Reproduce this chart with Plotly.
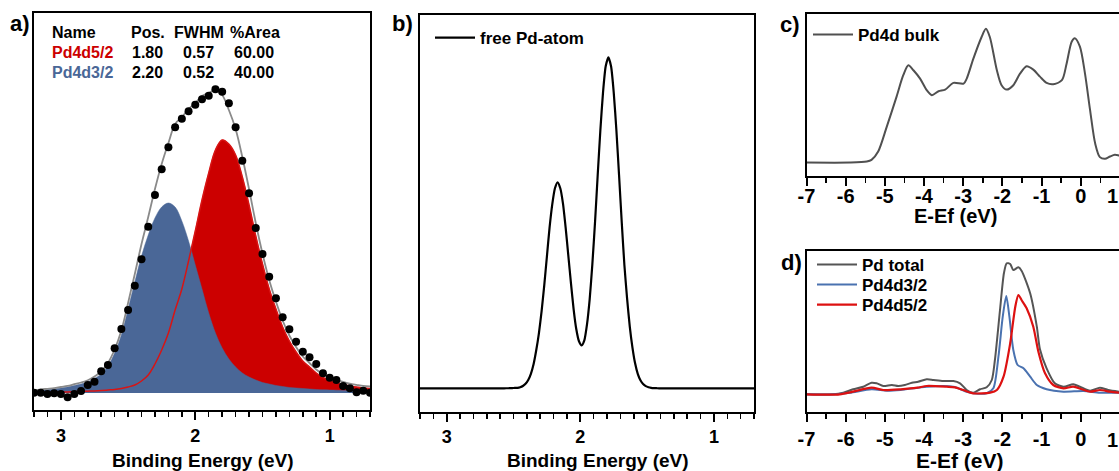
import plotly.graph_objects as go

W, H = 1119, 471
FONT = "Liberation Sans, Arial, sans-serif"

# ---------------- panel a: XPS fit ----------------
be_a = [3.20, 3.15, 3.10, 3.05, 3.00, 2.95, 2.90, 2.85, 2.80, 2.75, 2.70, 2.65, 2.60,
        2.55, 2.50, 2.45, 2.40, 2.35, 2.30, 2.25, 2.20, 2.15, 2.10, 2.05, 2.00, 1.95,
        1.90, 1.85, 1.80, 1.75, 1.70, 1.65, 1.60, 1.55, 1.50, 1.45, 1.40, 1.35, 1.30,
        1.25, 1.20, 1.15, 1.10, 1.05, 1.00, 0.95, 0.90, 0.85, 0.80, 0.75, 0.70]
measured_a = [0.3, 0.3, -1, -0.3, -1, -4.3, -1, 2, 8, 11.3, 21.7, 28, 44.7, 64, 83, 107.3,
              133.7, 166.3, 198, 223.7, 245.7, 265.7, 274.3, 281.7, 288.3, 293.7, 297.3,
              303.7, 301.3, 289.7, 265.7, 232.3, 199.7, 165, 139, 116.3, 94.7, 75.7, 63.7,
              51.3, 41.3, 35.7, 29, 19.7, 15.3, 13, 7, 4.7, 0.7, 2.3, 0.3]
pd4d32_a = [2, 3, 3.5, 4, 5, 6, 7.5, 9, 11, 14.5, 19, 27, 40, 58, 84, 111, 137, 158, 175,
            186, 190, 186, 172, 152, 128, 104, 80, 60, 45, 34, 26, 20, 16, 13, 10.5, 9, 7.5,
            6.5, 5.5, 5, 4.5, 4, 3.5, 3.2, 3, 2.8, 2.6, 2.4, 2.2, 2.1, 2]
pd4d52_a = [0.5, 0.6, 0.7, 0.8, 1, 1.1, 1.3, 1.5, 1.8, 2.1, 2.5, 3, 3.5, 4.5, 6, 8, 12, 18,
            29, 43, 60, 83, 104, 132, 162, 193, 220, 243, 253, 249, 238, 216, 188, 157, 129,
            104, 84, 66, 52, 41, 32, 26, 20, 15.5, 12.5, 10.5, 8.5, 7, 6, 5, 4.5]
envelope_a = [2.5, 3.6, 4.2, 4.8, 6, 7.1, 8.8, 10.5, 12.8, 16.6, 21.5, 30, 43.5, 62.5, 90,
              119, 149, 176, 204, 229, 250, 269, 276, 284, 290, 297, 300, 303, 298, 283, 264,
              236, 204, 170, 139.5, 113, 91.5, 72.5, 57.5, 46, 36.5, 30, 23.5, 18.7, 15.5,
              13.3, 11.1, 9.4, 8.2, 7.1, 6.5]

table_head = ["Name", "Pos.", "FWHM", "%Area"]
table_names = ["Pd4d5/2", "Pd4d3/2"]
table_pos = ["1.80", "2.20"]
table_fwhm = ["0.57", "0.52"]
table_area = ["60.00", "40.00"]

# ---------------- panel b: free atom ----------------
be_b = [3.20, 2.61, 2.59, 2.57, 2.55, 2.53, 2.51, 2.49, 2.47, 2.45, 2.43, 2.41, 2.39, 2.37,
        2.35, 2.33, 2.31, 2.29, 2.27, 2.25, 2.23, 2.21, 2.19, 2.17, 2.15, 2.13, 2.11, 2.09,
        2.07, 2.05, 2.03, 2.01, 1.99, 1.97, 1.95, 1.93, 1.91, 1.89, 1.87, 1.85, 1.83, 1.81,
        1.79, 1.77, 1.75, 1.73, 1.71, 1.69, 1.67, 1.65, 1.63, 1.61, 1.59, 1.57, 1.55, 1.53,
        1.51, 1.49, 1.47, 1.45, 1.43, 1.41, 1.39, 0.70]
free_atom_b = [0, 0, 0, 0, 0.05, 0.1, 0.2, 0.35, 0.5, 1.1, 2.3, 4.5, 8.3, 14.5, 24, 38, 55,
               77, 103, 132, 161, 184, 200, 206, 200, 185, 161, 133, 105, 79, 59, 47, 43, 48,
               64, 89, 124, 166, 213, 258, 296, 322, 331, 322, 296, 258, 213, 166, 123, 90,
               62, 41, 25, 14.5, 8, 4.3, 2.2, 1.1, 0.5, 0.2, 0.1, 0, 0, 0]

# ---------------- panel c: bulk DOS ----------------
e_c = [-7.0, -5.89, -5.46, -5.34, -5.17, -4.95, -4.70, -4.53, -4.40, -4.27, -4.10, -3.93,
       -3.80, -3.63, -3.46, -3.25, -2.99, -2.91, -2.74, -2.53, -2.42, -2.32, -2.14, -2.02,
       -1.89, -1.72, -1.55, -1.38, -1.21, -1.04, -0.87, -0.70, -0.48, -0.36, -0.23, -0.15,
       -0.02, 0.11, 0.24, 0.37, 0.49, 0.62, 0.75, 0.87, 0.98, 1.10]
bulk_c = [0, 0, 1, 2.7, 11, 36, 66, 87.4, 97.4, 92.4, 84, 72.4, 67.4, 71.4, 73, 79.7, 79, 84,
          104, 125.7, 134, 125.7, 92.4, 77.4, 73, 77.4, 89, 96.4, 93, 86, 79.7, 78.4, 82.4,
          99, 121, 124.4, 116, 89, 52.4, 19, 5.4, 3.7, 6, 7.7, 7, 6]

# ---------------- panel d: projected DOS ----------------
e_dt = [-7.0, -6.32, -6.06, -5.81, -5.55, -5.34, -5.21, -5.04, -4.82, -4.66, -4.49, -4.31,
        -4.15, -3.93, -3.76, -3.51, -3.25, -3.08, -2.91, -2.74, -2.57, -2.40, -2.27, -2.19,
        -2.06, -1.96, -1.89, -1.80, -1.72, -1.59, -1.51, -1.29, -1.12, -1.04, -0.87, -0.66,
        -0.44, -0.19, -0.02, 0.24, 0.49, 0.70, 0.98]
total_d = [0, 0, 1.6, 5, 7.6, 11.6, 11, 8.3, 9.3, 8.3, 9.3, 11.6, 12.6, 15, 14.3, 13.3, 13.3,
           11, 4.3, 1.6, 5, 7, 14.3, 34.3, 84.3, 121, 131, 130.3, 124.3, 127, 123.6, 101,
           67.6, 45, 26, 11, 7.6, 10, 7.6, 3.6, 6.6, 4.3, 2.6]
e_d3 = [-7.0, -6.3, -5.89, -5.34, -4.95, -4.6, -3.93, -3.25, -2.91, -2.74, -2.40, -2.23,
        -2.10, -1.99, -1.90, -1.82, -1.72, -1.61, -1.46, -1.29, -1.12, -0.87, -0.44, 0.07,
        0.49, 0.98]
d32_d = [0, 0, 1.6, 5, 3.6, 4.3, 7.6, 7.6, 2.6, 1, 1, 6, 37.6, 77.6, 98.3, 77.6, 44.3, 29.3,
         26, 17.6, 9.3, 5, 2.6, 3.3, 1.6, 1.6]
e_d5 = [-7.0, -6.15, -5.81, -5.34, -5.04, -4.6, -4.17, -3.93, -3.42, -3.21, -3.0, -2.74,
        -2.31, -2.14, -1.97, -1.80, -1.67, -1.59, -1.51, -1.38, -1.21, -1.08, -0.91, -0.70,
        -0.44, -0.19, 0.03, 0.24, 0.49, 0.75, 0.98]
d52_d = [0, 0, 2.6, 6.6, 4.3, 5, 6.6, 8.3, 7.6, 7, 4.3, 1, 1.6, 4.3, 17.6, 51, 87.6, 99.3,
         94.3, 86, 67.6, 42.6, 21, 9.3, 6, 7.6, 5, 2.6, 4.3, 2.6, 1.6]

# tick labels of the E-Ef axes (ASCII hyphen as in the original)
ef_tickvals = [-7, -6, -5, -4, -3, -2, -1, 0]
ef_ticktext = ["-7", "-6", "-5", "-4", "-3", "-2", "-1", "0"]

RED_FILL = "#cc0000"
RED_LINE = "#d81414"
BLUE_FILL = "#4a6797"
GRAY = "#8a8a8a"
D_GRAY = "#555555"
D_BLUE = "#4a72b0"
D_RED = "#dd1111"


def fx(p):
    return p / W


def fy(p):
    return 1 - p / H


fig = go.Figure()

# panel a
fig.add_trace(go.Scatter(x=be_a, y=pd4d52_a, mode="lines", fill="tozeroy",
                         fillcolor=RED_FILL, line=dict(color=RED_FILL, width=0.5, shape="spline"),
                         xaxis="x", yaxis="y", showlegend=False, hoverinfo="skip"))
fig.add_trace(go.Scatter(x=be_a, y=pd4d32_a, mode="lines", fill="tozeroy",
                         fillcolor=BLUE_FILL, line=dict(color=BLUE_FILL, width=0.5, shape="spline"),
                         xaxis="x", yaxis="y", showlegend=False))
fig.add_trace(go.Scatter(x=be_a, y=pd4d52_a, mode="lines",
                         line=dict(color=RED_LINE, width=1.5, shape="spline"),
                         xaxis="x", yaxis="y", showlegend=False))
fig.add_trace(go.Scatter(x=be_a, y=envelope_a, mode="lines",
                         line=dict(color=GRAY, width=1.8, shape="spline"),
                         xaxis="x", yaxis="y", showlegend=False))
fig.add_trace(go.Scatter(x=be_a, y=measured_a, mode="markers",
                         marker=dict(color="black", size=8),
                         xaxis="x", yaxis="y", showlegend=False))

# panel b
fig.add_trace(go.Scatter(x=be_b, y=free_atom_b, mode="lines", name="free Pd-atom",
                         line=dict(color="black", width=2.2, shape="spline", smoothing=0.6),
                         xaxis="x2", yaxis="y2", legend="legend"))

# panel c
fig.add_trace(go.Scatter(x=e_c, y=bulk_c, mode="lines", name="Pd4d bulk",
                         line=dict(color="#505050", width=2, shape="spline", smoothing=0.8),
                         xaxis="x3", yaxis="y3", legend="legend2"))

# panel d
fig.add_trace(go.Scatter(x=e_dt, y=total_d, mode="lines", name="Pd total",
                         line=dict(color=D_GRAY, width=2, shape="spline", smoothing=0.7),
                         xaxis="x4", yaxis="y4", legend="legend3"))
fig.add_trace(go.Scatter(x=e_d3, y=d32_d, mode="lines", name="Pd4d3/2",
                         line=dict(color=D_BLUE, width=2, shape="spline", smoothing=0.7),
                         xaxis="x4", yaxis="y4", legend="legend4"))
fig.add_trace(go.Scatter(x=e_d5, y=d52_d, mode="lines", name="Pd4d5/2",
                         line=dict(color=D_RED, width=2.2, shape="spline", smoothing=0.7),
                         xaxis="x4", yaxis="y4", legend="legend5"))

bold = dict(family=FONT, color="black", weight="bold")


def xax(domain, rng, anchor, minor, size, standoff=0, tickvals=None, ticktext=None):
    d = dict(domain=domain, range=rng, anchor=anchor, showline=True, linecolor="black",
             linewidth=2, mirror=True, ticks="outside", ticklen=8, tickwidth=2,
             tickcolor="black",
             minor=dict(ticks="outside", ticklen=5, tickwidth=1.5, tickcolor="black",
                        tickmode="linear", dtick=minor, tick0=0, showgrid=False),
             showgrid=False, zeroline=False, ticklabelstandoff=standoff,
             automargin=False,
             tickfont=dict(size=size, **bold), fixedrange=True)
    if tickvals is None:
        d.update(tickmode="linear", tick0=0, dtick=1)
    else:
        d.update(tickmode="array", tickvals=tickvals, ticktext=ticktext)
    return d


def yax(domain, rng, anchor, mirror=True):
    return dict(domain=domain, range=rng, anchor=anchor, showline=True, linecolor="black",
                linewidth=2, mirror=mirror, ticks="", showticklabels=False, showgrid=False,
                zeroline=False, automargin=False, fixedrange=True)


def leg(px, py):
    return dict(x=fx(px), y=fy(py), xanchor="left", yanchor="top", bgcolor="rgba(0,0,0,0)",
                font=dict(size=17, **bold), itemwidth=40, borderwidth=0)


layout = dict(
    width=W, height=H, margin=dict(l=0, r=0, t=0, b=0, autoexpand=False),
    paper_bgcolor="white", plot_bgcolor="white",
    font=dict(family=FONT, color="black"),
    xaxis=xax([fx(34), fx(370)], [3.2, 0.7], "y", 0.1, 18),
    yaxis=yax([fy(410), fy(13)], [-17, 380], "x"),
    xaxis2=xax([fx(420), fx(754)], [3.2, 0.7], "y2", 0.1, 18),
    yaxis2=yax([fy(411.5), fy(15)], [-23.2, 373.3], "x2"),
    xaxis3=xax([fx(806.5), 1.0], [-7, 0.978], "y3", 0.5, 20, standoff=-7,
               tickvals=ef_tickvals, ticktext=ef_ticktext),
    yaxis3=yax([fy(175.5), fy(14)], [-13, 148.7], "x3", mirror=False),
    xaxis4=xax([fx(806.5), 1.0], [-7, 0.978], "y4", 0.5, 20,
               tickvals=ef_tickvals, ticktext=ef_ticktext),
    yaxis4=yax([fy(411.7), fy(250.5)], [-17.4, 143.8], "x4", mirror=False),
    legend=leg(430, 20),
    legend2=leg(808, 17),
    legend3=leg(812, 247),
    legend4=leg(812, 267),
    legend5=leg(812, 287),
)
fig.update_layout(**layout)

ann = []


def text(px, py, s, size, color="black", anchor="left"):
    ann.append(dict(x=fx(px), y=fy(py), xref="paper", yref="paper", text=s, showarrow=False,
                    xanchor=anchor, yanchor="middle",
                    font=dict(family=FONT, size=size, color=color, weight="bold")))


# panel labels
text(20, 24, "a)", 22, anchor="center")
text(402, 24, "b)", 22, anchor="center")
text(790, 25, "c)", 22, anchor="center")
text(791, 262, "d)", 22, anchor="center")

# axis titles
text(202.5, 460, "Binding Energy (eV)", 19, anchor="center")
text(597.5, 460, "Binding Energy (eV)", 19, anchor="center")
text(955, 216, "E-Ef (eV)", 20, anchor="center")
text(960, 460, "E-Ef (eV)", 21, anchor="center")
# tick label "1" at the right edge of panels c and d (cropped in the original)
text(1112.5, 196, "1", 20, anchor="center")
text(1112.5, 440, "1", 20, anchor="center")

# fit table
cols_x = [50, 129, 172, 228]
for cx, s in zip(cols_x, table_head):
    text(cx, 33, s, 16)
row_colors = [RED_FILL, BLUE_FILL]
for i in range(2):
    yy = 53 + 19.3 * i
    text(50, yy, table_names[i], 16, color=row_colors[i])
    text(130, yy, table_pos[i], 16)
    text(181, yy, table_fwhm[i], 16)
    text(232, yy, table_area[i], 16)

fig.update_layout(annotations=ann)

fig.write_html("out.html",
               config={"displayModeBar": False, "staticPlot": True},
               post_script="document.body.style.margin='0px';"
                           "document.body.style.overflow='hidden';")
